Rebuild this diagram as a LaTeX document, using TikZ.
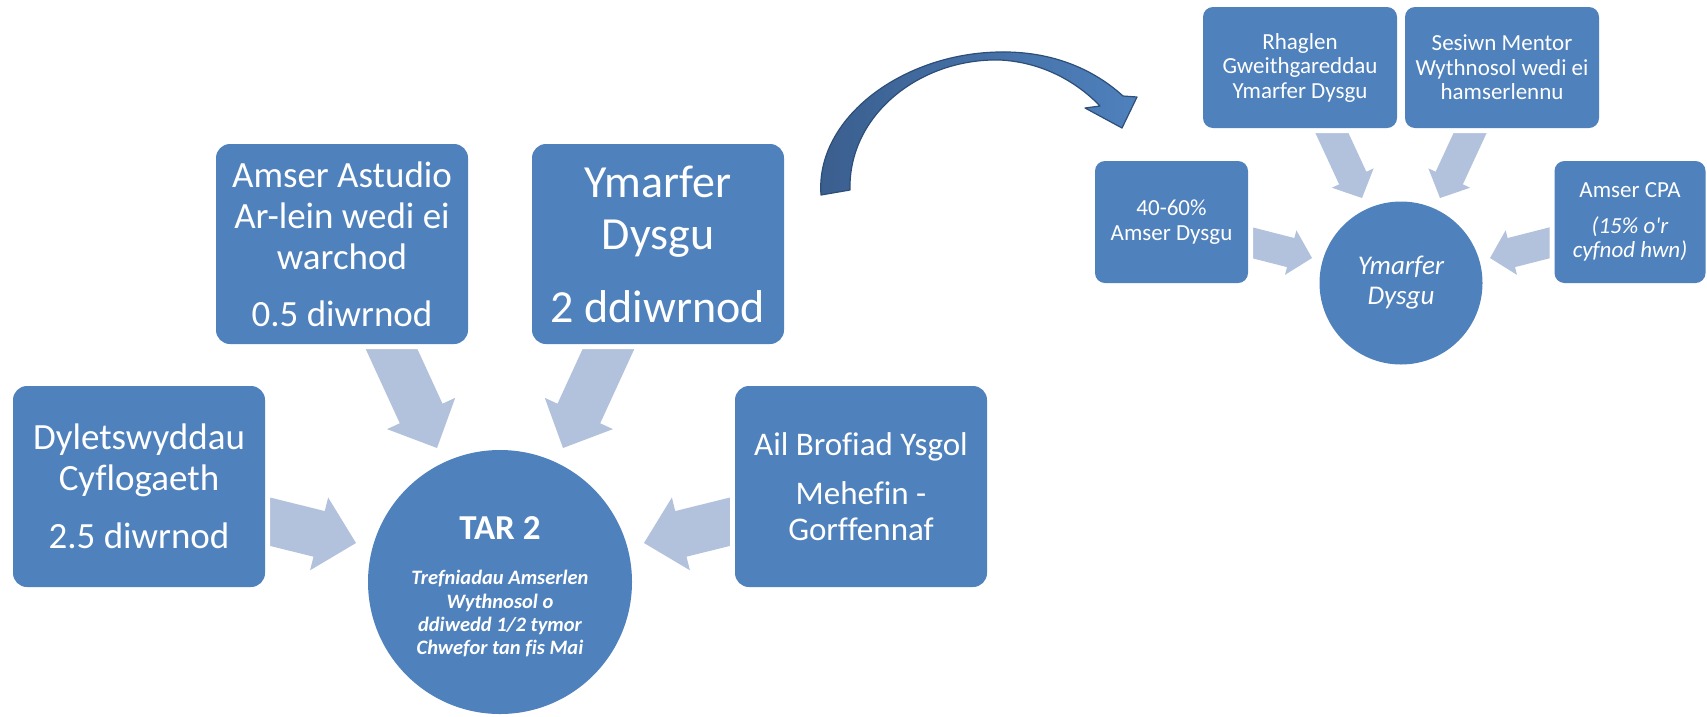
\documentclass[tikz,border=0pt]{standalone}
\usepackage{fontspec}
\setmainfont{Carlito}[Ligatures={TeX,NoCommon}]
\usetikzlibrary{calc,backgrounds}
\definecolor{boxblue}{RGB}{79,129,189}
\definecolor{arrowlight}{RGB}{178,193,220}
\definecolor{arrowdark}{RGB}{58,94,142}
\definecolor{arrowedge}{RGB}{45,78,120}
\newcommand{\flowarrow}[5]{%
  \coordinate (fa-neck) at ($(#2)!#5!(#1)$);
  \fill[arrowlight] ($(#1)!#3!90:(#2)$) -- ($(fa-neck)!#3!90:(#2)$) -- ($(fa-neck)!#4!90:(#2)$) -- (#2) -- ($(fa-neck)!#4!-90:(#2)$) -- ($(fa-neck)!#3!-90:(#2)$) -- ($(#1)!#3!-90:(#2)$) -- cycle;%
}
\tikzset{
  box/.style={rectangle, rounded corners=14pt, fill=boxblue, preaction={draw=white, line width=10pt}, text=white, align=center, inner sep=0pt, minimum width=252pt, minimum height=201pt},
  smallbox/.style={box, rounded corners=10pt, font=\fontsize{23}{24.5}\selectfont},
  hub/.style={circle, fill=boxblue, text=white, align=center, inner sep=0pt},
}
\begin{document}
\begin{tikzpicture}[x=1pt, y=-1pt]
\useasboundingbox (0,0) rectangle (1707,716);

% left diagram
\node[box, font=\fontsize{37}{41}\selectfont] (dylet) at (139,486.5) {Dyletswyddau\\Cyflogaeth\\[17pt]2.5 diwrnod};
\node[box, font=\fontsize{37}{41}\selectfont, minimum height=200pt] (astudio) at (342,244) {Amser Astudio\\Ar-lein wedi ei\\warchod\\[16pt]0.5 diwrnod};
\node[box, font=\fontsize{46}{52}\selectfont, minimum height=200pt] (ymarfer) at (658,244) {Ymarfer\\Dysgu\\[21pt]2 ddiwrnod};
\node[box, font=\fontsize{33}{36}\selectfont] (ail) at (861,486.5) {Ail Brofiad Ysgol\\[13pt]Mehefin -\\Gorffennaf};
\node[hub, minimum size=264pt, font=\fontsize{20.5}{23.3}\selectfont\bfseries\itshape] (tar) at (500,582) {\rule{0pt}{33pt}{\fontsize{35}{35}\selectfont\upshape TAR 2}\\[21.5pt]Trefniadau Amserlen\\Wythnosol o\\ddiwedd 1/2 tymor\\Chwefor tan fis Mai};

% right diagram
\node[smallbox, minimum width=153pt, minimum height=122pt] (pct) at (1171.5,222) {40-60\%\\Amser Dysgu};
\node[smallbox, minimum width=194pt, minimum height=121pt] (rhaglen) at (1300,67.5) {Rhaglen\\Gweithgareddau\\Ymarfer Dysgu};
\node[smallbox, minimum width=194pt, minimum height=121pt] (sesiwn) at (1502,67.5) {Sesiwn Mentor\\Wythnosol wedi ei\\hamserlennu};
\node[smallbox, minimum width=151pt, minimum height=122pt] (cpa) at (1630,222) {Amser CPA\\[11.5pt]\textit{(15\% o\textquotesingle r}\\\textit{cyfnod hwn)}};
\node[hub, minimum size=163pt, font=\fontsize{27}{30}\selectfont\itshape] (yd) at (1401,283) {Ymarfer\\Dysgu};

\begin{scope}[on background layer]
  \coordinate (a1t) at ($(dylet.east)+(-15.4,30.2)$);   \coordinate (a1h) at ($(tar)+(-144,-39)$);
  \coordinate (a2t) at ($(ail.west)+(15.4,30.2)$);      \coordinate (a2h) at ($(tar)+(144,-39)$);
  \coordinate (a3t) at ($(astudio.south)+(42.2,-11.2)$); \coordinate (a3h) at ($(tar)+(-63,-134)$);
  \coordinate (a4t) at ($(ymarfer.south)+(-42.2,-11.2)$); \coordinate (a4h) at ($(tar)+(63,-134)$);
  \flowarrow{a1t}{a1h}{23.5pt}{37.5pt}{38pt}
  \flowarrow{a2t}{a2h}{23.5pt}{37.5pt}{38pt}
  \flowarrow{a3t}{a3h}{23.5pt}{37.5pt}{38pt}
  \flowarrow{a4t}{a4h}{23.5pt}{37.5pt}{38pt}

  \coordinate (b1t) at ($(pct.east)+(-9.5,17.3)$);      \coordinate (b1h) at ($(yd)+(-89,-25)$);
  \coordinate (b2t) at ($(cpa.west)+(9,17.3)$);         \coordinate (b2h) at ($(yd)+(89,-25)$);
  \coordinate (b3t) at ($(rhaglen.south)+(25.7,-8.6)$); \coordinate (b3h) at ($(yd)+(-39,-85)$);
  \coordinate (b4t) at ($(sesiwn.south)+(-25.7,-8.6)$); \coordinate (b4h) at ($(yd)+(39,-85)$);
  \flowarrow{b1t}{b1h}{15pt}{23pt}{22pt}
  \flowarrow{b2t}{b2h}{15pt}{23pt}{22pt}
  \flowarrow{b3t}{b3h}{15pt}{23pt}{22pt}
  \flowarrow{b4t}{b4h}{15pt}{23pt}{22pt}
\end{scope}

% curved arrow linking the two diagrams
\path[draw=arrowedge, line width=1.2pt, line join=round, left color=arrowdark, right color=boxblue]
  (821,195) .. controls (815,118) and (903,53) .. (1000,52)
  .. controls (1060,51) and (1100,75) .. (1123,96)
  -- (1137,97) -- (1122,128) -- (1085,108) -- (1100,106)
  .. controls (1075,80) and (1040,62) .. (1000,60)
  .. controls (920,58) and (848,115) .. (850,190) -- cycle;
\end{tikzpicture}
\end{document}
